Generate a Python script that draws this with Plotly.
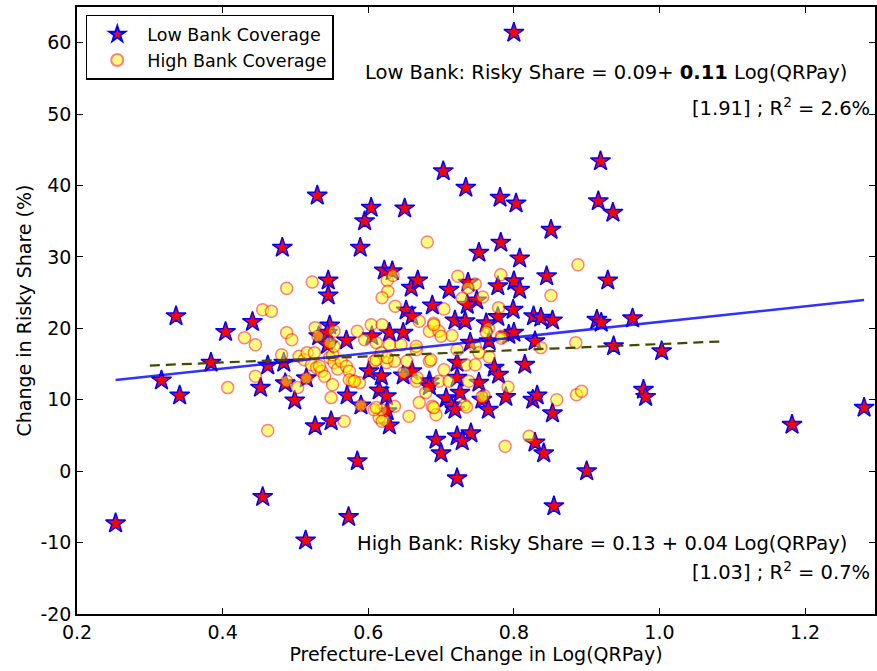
import plotly.graph_objects as go
import numpy as np

# Low bank coverage (stars): x = change in log(QRPay), y = change in risky share (%)
low_x = [0.253, 0.316, 0.336, 0.341, 0.384, 0.404, 0.441, 0.452, 0.455, 0.462,
         0.482, 0.484, 0.486, 0.499, 0.514, 0.527, 0.530, 0.532, 0.547, 0.549,
         0.545, 0.545, 0.544, 0.544, 0.570, 0.571, 0.573, 0.585, 0.590, 0.589,
         0.595, 0.604, 0.601, 0.605, 0.615, 0.618, 0.625, 0.626, 0.629, 0.629,
         0.622, 0.633, 0.648, 0.652, 0.660, 0.659, 0.668, 0.688, 0.650, 0.648,
         0.660, 0.684, 0.693, 0.700, 0.800, 0.703, 0.734, 0.781, 0.803, 0.919,
         0.916, 0.936, 0.851, 0.782, 0.752, 0.808, 0.845, 0.929, 0.711, 0.737,
         0.778, 0.800, 0.808, 0.749, 0.736, 0.799, 0.778, 0.719, 0.733, 0.827,
         0.837, 0.853, 0.914, 0.920, 0.963, 0.793, 0.800, 0.740, 0.766, 0.829,
         0.937, 1.003, 0.722, 0.815, 0.773, 0.779, 0.722, 0.752, 0.726, 0.707,
         0.714, 0.719, 0.756, 0.765, 0.789, 0.826, 0.832, 0.853, 0.978, 0.981,
         1.281, 1.182, 0.722, 0.741, 0.729, 0.829, 0.841, 0.900, 0.722, 0.855,
         0.762, 0.515, 0.684]
low_y = [-7.3, 12.7, 21.7, 10.6, 15.2, 19.5, 20.9, 11.7, -3.6, 14.8,
         31.3, 15.2, 12.3, 9.9, -9.7, 6.3, 38.6, 18.9, 20.4, 7.0,
         26.7, 24.6, 19.4, 17.7, 18.3, 10.6, -6.4, 1.4, 9.2, 31.3,
         35.0, 36.9, 14.0, 18.9, 11.3, 13.3, 10.5, 8.4, 6.4, 19.4,
         28.1, 28.0, 19.4, 22.5, 21.7, 25.7, 26.7, 23.2, 36.8, 13.4,
         14.0, 12.6, 4.4, 2.5, 61.4, 42.0, 39.7, 38.3, 37.5, 43.4,
         37.8, 36.2, 33.8, 32.0, 30.6, 29.8, 27.3, 26.7, 25.4, 26.4,
         25.9, 26.6, 25.4, 23.9, 23.3, 22.6, 21.6, 21.1, 21.0, 21.7,
         21.5, 21.1, 21.2, 20.8, 21.4, 19.1, 19.4, 18.0, 18.2, 18.2,
         17.5, 16.8, 15.2, 14.9, 14.5, 13.5, 13.1, 12.4, 11.0, 10.2,
         9.2, 8.6, 10.0, 8.6, 10.4, 10.0, 10.6, 8.1, 11.4, 10.4,
         8.9, 6.5, 4.9, 5.3, 4.2, 4.0, 2.5, 0.0, -1.0, -4.9,
         20.7, 13.0, 11.9]

# High bank coverage (circles)
high_x = [0.523, 0.488, 0.455, 0.467, 0.430, 0.445, 0.488, 0.495, 0.527, 0.407,
          0.445, 0.462, 0.481, 0.488, 0.503, 0.515, 0.505, 0.512, 0.516, 0.526,
          0.522, 0.529, 0.536, 0.540, 0.533, 0.547, 0.553, 0.558, 0.563, 0.570,
          0.574, 0.578, 0.588, 0.574, 0.551, 0.549, 0.567, 0.551, 0.553, 0.547,
          0.585, 0.595, 0.604, 0.611, 0.619, 0.608, 0.618, 0.625, 0.636, 0.636,
          0.656, 0.622, 0.615, 0.618, 0.608, 0.666, 0.670, 0.684, 0.684, 0.666,
          0.679, 0.670, 0.688, 0.693, 0.888, 0.851, 0.885, 0.837, 0.859, 0.886,
          0.893, 0.821, 0.788, 0.792, 0.732, 0.779, 0.704, 0.734, 0.747, 0.697,
          0.711, 0.738, 0.759, 0.735, 0.690, 0.723, 0.747, 0.782, 0.729, 0.757,
          0.704, 0.690, 0.697, 0.700, 0.715, 0.765, 0.783, 0.747, 0.722, 0.752,
          0.766, 0.626, 0.634, 0.627, 0.619, 0.637, 0.553, 0.629, 0.645, 0.666,
          0.581, 0.611, 0.626, 0.653, 0.649, 0.667, 0.611, 0.619, 0.590, 0.531,
          0.681, 0.690, 0.737, 0.762, 0.783, 0.756, 0.686]
high_y = [26.5, 25.6, 22.6, 22.4, 18.7, 17.7, 19.4, 18.4, 20.1, 11.7,
          13.3, 5.7, 16.3, 12.6, 11.7, 13.0, 16.1, 15.6, 16.6, 16.6,
          14.9, 14.5, 14.0, 13.3, 14.7, 15.9, 15.2, 14.3, 15.4, 14.7,
          14.0, 12.6, 12.4, 12.8, 12.1, 10.3, 7.0, 16.3, 17.5, 18.0,
          19.6, 18.4, 20.5, 18.0, 20.5, 15.4, 16.6, 15.2, 15.4, 9.1,
          7.7, 7.2, 7.5, 8.6, 8.6, 17.0, 21.0, 19.6, 15.4, 12.6,
          11.0, 9.6, 9.1, 7.9, 28.9, 24.6, 18.0, 17.3, 10.0, 10.7,
          11.2, 4.9, 3.5, 11.8, 9.3, 22.9, 14.2, 14.9, 14.9, 12.6,
          12.6, 12.6, 10.6, 9.0, 8.9, 27.3, 26.2, 27.5, 24.2, 24.4,
          22.7, 20.7, 19.6, 18.9, 19.0, 20.0, 18.9, 17.5, 17.0, 16.6,
          16.0, 26.7, 27.4, 25.2, 24.3, 23.1, 19.6, 17.7, 17.7, 17.5,
          12.6, 15.6, 15.9, 15.4, 13.8, 13.1, 8.9, 7.0, 9.2, 18.9,
          32.1, 20.5, 25.7, 19.5, 18.6, 10.4, 15.6]

# Fitted lines (intercept, slope in % units) and the span of the dashed fit
low_fit = [10.0, 10.9]
high_fit = [13.5, 4.3]
high_fit_span = [0.30, 1.09]

x_ticks = [0.2, 0.4, 0.6, 0.8, 1.0, 1.2]
y_ticks = [-20, -10, 0, 10, 20, 30, 40, 50, 60]
y_tick_text = ["-20", "-10", "0", "10", "20", "30", "40", "50", "60"]

FONT = "DejaVu Sans"

fig = go.Figure()
fig.add_trace(go.Scatter(
    x=low_x, y=low_y, mode="markers", name="Low Bank Coverage",
    marker=dict(symbol="star", size=15, color="red",
                line=dict(color="blue", width=1.5))))
fig.add_trace(go.Scatter(
    x=high_x, y=high_y, mode="markers", name="High Bank Coverage",
    marker=dict(symbol="circle", size=12, color="yellow", opacity=0.5,
                line=dict(color="red", width=1.5))))

lx = np.array([min(low_x), max(low_x)])
fig.add_trace(go.Scatter(x=lx, y=low_fit[0] + low_fit[1] * lx, mode="lines",
                         line=dict(color="blue", width=2.5), showlegend=False,
                         opacity=0.8))
hx = np.array(high_fit_span)
fig.add_trace(go.Scatter(x=hx, y=high_fit[0] + high_fit[1] * hx, mode="lines",
                         line=dict(color="#474700", width=2.2, dash="10px,6px"),
                         showlegend=False, opacity=1.0))

ann_font = dict(family=FONT, size=19.5, color="black")
fig.add_annotation(x=1.26, y=55.8, xref="x", yref="y", showarrow=False,
                   xanchor="right", yanchor="middle", font=ann_font,
                   text="Low Bank: Risky Share = 0.09+ <b>0.11</b> Log(QRPay)")
fig.add_annotation(x=1.292, y=51.0, xref="x", yref="y", showarrow=False,
                   xanchor="right", yanchor="middle", font=ann_font,
                   text="[1.91] ; R<sup>2</sup> = 2.6%")
fig.add_annotation(x=1.26, y=-10.1, xref="x", yref="y", showarrow=False,
                   xanchor="right", yanchor="middle", font=ann_font,
                   text="High Bank: Risky Share = 0.13 + 0.04 Log(QRPay)")
fig.add_annotation(x=1.292, y=-14.0, xref="x", yref="y", showarrow=False,
                   xanchor="right", yanchor="middle", font=ann_font,
                   text="[1.03] ; R<sup>2</sup> = 0.7%")

axis_common = dict(showgrid=False, zeroline=False, showline=True, linecolor="black",
                   linewidth=1.5, mirror="allticks", ticks="inside", ticklen=6,
                   tickwidth=1, tickcolor="black",
                   tickfont=dict(family=FONT, size=19, color="black"))

fig.update_layout(
    width=877, height=671,
    margin=dict(l=77, r=0, t=7, b=57),
    paper_bgcolor="white", plot_bgcolor="white",
    font=dict(family=FONT, size=19, color="black"),
    xaxis=dict(range=[0.2, 1.296], tickvals=x_ticks, tickformat=".1f",
               title=dict(text="Prefecture-Level Change in Log(QRPay)",
                          font=dict(family=FONT, size=19), standoff=6),
               **axis_common),
    yaxis=dict(range=[-20, 65], tickvals=y_ticks, ticktext=y_tick_text,
               title=dict(text="Change in Risky Share (%)",
                          font=dict(family=FONT, size=19), standoff=4),
               **axis_common),
    legend=dict(x=0.011, y=0.987, xanchor="left", yanchor="top",
                bordercolor="black", borderwidth=1.5, bgcolor="white",
                font=dict(family=FONT, size=17.5, color="black"),
                tracegroupgap=0, itemsizing="constant", itemwidth=50),
    showlegend=True,
)

fig.write_html("out.html")
